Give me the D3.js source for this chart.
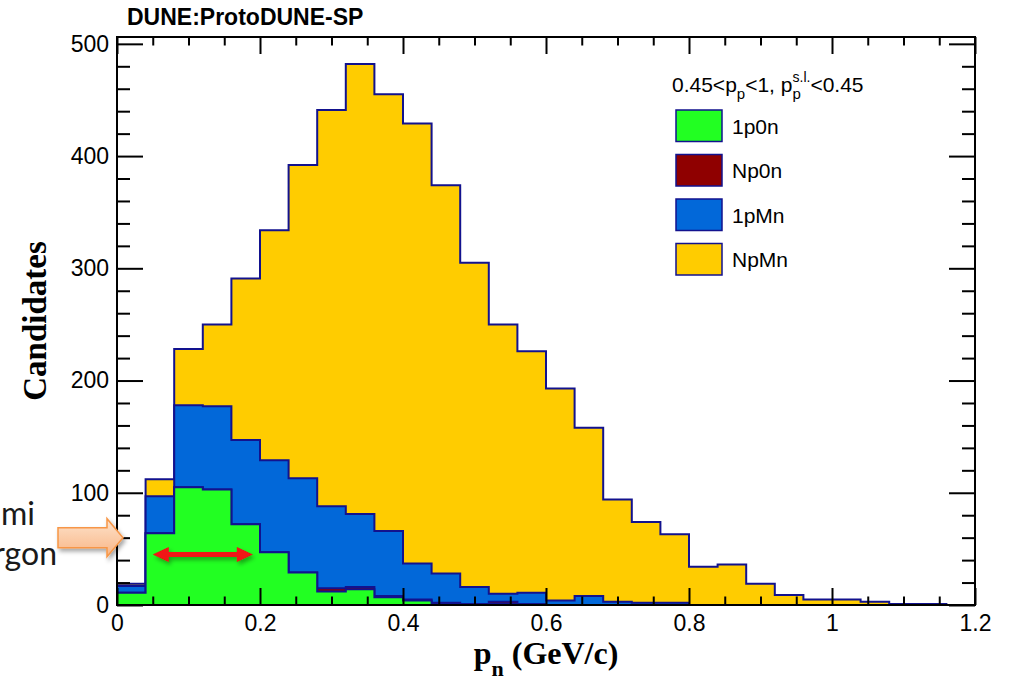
<!DOCTYPE html>
<html>
<head>
<meta charset="utf-8">
<script src="https://cdn.jsdelivr.net/npm/d3@7"></script>
<style>
body { margin: 0; background: #fff; }
svg { display: block; }
</style>
</head>
<body>
<script>
// bin edges of p_n (GeV/c), 30 bins of 0.04
var binEdges = [0, 0.04, 0.08, 0.12, 0.16, 0.2, 0.24, 0.28, 0.32, 0.36, 0.4,
    0.44, 0.48, 0.52, 0.56, 0.6, 0.64, 0.68, 0.72, 0.76, 0.8,
    0.84, 0.88, 0.92, 0.96, 1.0, 1.04, 1.08, 1.12, 1.16, 1.2];

// candidates per bin, for each topology (stacked bottom -> top)
var onePzeroN = [11, 64, 105, 103, 72, 47, 29, 12, 14, 7, 4, 1, 0, 1, 0, 0, 0, 0, 0, 0, 0, 0, 0, 0, 0, 0, 0, 0, 0, 0];
var nPzeroN   = [0, 0, 0, 0, 0, 0, 0, 3, 2, 1, 1, 1, 1, 2, 1, 0, 0, 0, 0, 0, 0, 0, 0, 0, 0, 0, 0, 0, 0, 0];
var onePmN    = [6, 33, 73, 74, 75, 82, 84, 73, 65, 58, 32, 26, 15, 7, 10, 4, 8, 3, 2, 2, 0, 0, 0, 0, 0, 0, 0, 0, 0, 0];
var nPmN      = [2, 15, 50, 73, 144, 205, 279, 353, 401, 389, 392, 346, 289, 240, 215, 189, 150, 91, 72, 61, 34, 36, 19, 9, 5, 5, 3, 1, 1, 0];

var seriesNames = ["1p0n", "Np0n", "1pMn", "NpMn"];
var seriesData = [onePzeroN, nPzeroN, onePmN, nPmN];

var xTicks = [0, 0.2, 0.4, 0.6, 0.8, 1.0, 1.2];
var xTickLabels = ["0", "0.2", "0.4", "0.6", "0.8", "1", "1.2"];
var yTicks = [0, 100, 200, 300, 400, 500];
var yTickLabels = ["0", "100", "200", "300", "400", "500"];

var colors = {"1p0n": "#22ff22", "Np0n": "#8f0000", "1pMn": "#0268d9", "NpMn": "#ffcc00"};
var lineColor = "#12128e";

var width = 1010, height = 679;

var svg = d3.select("body").append("svg")
    .attr("width", width)
    .attr("height", height);

var defs = svg.append("defs");
defs.append("filter").attr("id", "shadow")
    .attr("x", "-20%").attr("y", "-50%").attr("width", "150%").attr("height", "220%")
    .append("feDropShadow")
    .attr("dx", 2).attr("dy", 3).attr("stdDeviation", 2)
    .attr("flood-color", "#000").attr("flood-opacity", 0.35);
var grad = defs.append("linearGradient").attr("id", "peach")
    .attr("x1", 0).attr("y1", 0).attr("x2", 0).attr("y2", 1);
grad.append("stop").attr("offset", "0%").attr("stop-color", "#fde3cc");
grad.append("stop").attr("offset", "100%").attr("stop-color", "#f9b585");

var x = d3.scaleLinear().domain([0, 1.2]).range([117, 975]);
var y = d3.scaleLinear().domain([0, 506.1]).range([605, 37]);

// stacked table
var rows = binEdges.slice(0, -1).map(function(e, i) {
    var r = {x0: e};
    seriesNames.forEach(function(k, j) { r[k] = seriesData[j][i]; });
    return r;
});
var layers = d3.stack().keys(seriesNames)(rows);

var area = d3.area()
    .x(function(d) { return d[0]; })
    .y0(y(0))
    .y1(function(d) { return d[1]; })
    .curve(d3.curveStepAfter);

// draw cumulative histograms like THStack: top of stack first
layers.slice().reverse().forEach(function(layer) {
    var pts = layer.map(function(d) { return [x(d.data.x0), y(d[1])]; });
    pts.push([x(binEdges[binEdges.length - 1]), y(layer[layer.length - 1][1])]);
    svg.append("path")
        .datum(pts)
        .attr("d", area)
        .attr("fill", colors[layer.key])
        .attr("stroke", lineColor)
        .attr("stroke-width", 2)
        .attr("stroke-linejoin", "miter");
});

// frame
svg.append("rect")
    .attr("x", x(0)).attr("y", y.range()[1])
    .attr("width", x(1.2) - x(0)).attr("height", y(0) - y.range()[1])
    .attr("fill", "none").attr("stroke", "#000").attr("stroke-width", 2);

var xMinor = d3.range(0, 25).filter(function(i) { return i % 4 !== 0; }).map(function(i) { return i * 0.05; });
var yMinor = d3.range(0, 26).filter(function(i) { return i % 5 !== 0; }).map(function(i) { return i * 20; });

function styleAxis(g) {
    g.select(".domain").remove();
    g.selectAll("line").attr("stroke", "#000").attr("stroke-width", 2);
    g.attr("font-family", "'Liberation Sans', Arial, sans-serif").attr("font-size", 23);
    g.selectAll("text").attr("fill", "#000");
}

svg.append("g").attr("transform", "translate(0," + y(0) + ")")
    .call(d3.axisBottom(x).tickValues(xTicks)
        .tickFormat(function(d, i) { return xTickLabels[i]; })
        .tickSizeInner(-17).tickSizeOuter(0).tickPadding(10))
    .call(styleAxis);
svg.append("g").attr("transform", "translate(0," + y(0) + ")")
    .call(d3.axisBottom(x).tickValues(xMinor).tickFormat("").tickSizeInner(-8.5).tickSizeOuter(0))
    .call(styleAxis);
svg.append("g").attr("transform", "translate(0," + y.range()[1] + ")")
    .call(d3.axisTop(x).tickValues(xTicks).tickFormat("").tickSizeInner(-17).tickSizeOuter(0))
    .call(styleAxis);
svg.append("g").attr("transform", "translate(0," + y.range()[1] + ")")
    .call(d3.axisTop(x).tickValues(xMinor).tickFormat("").tickSizeInner(-8.5).tickSizeOuter(0))
    .call(styleAxis);

svg.append("g").attr("transform", "translate(" + x(0) + ",0)")
    .call(d3.axisLeft(y).tickValues(yTicks)
        .tickFormat(function(d, i) { return yTickLabels[i]; })
        .tickSizeInner(-26).tickSizeOuter(0).tickPadding(8))
    .call(styleAxis);
svg.append("g").attr("transform", "translate(" + x(0) + ",0)")
    .call(d3.axisLeft(y).tickValues(yMinor).tickFormat("").tickSizeInner(-13).tickSizeOuter(0))
    .call(styleAxis);
svg.append("g").attr("transform", "translate(" + x(1.2) + ",0)")
    .call(d3.axisRight(y).tickValues(yTicks).tickFormat("").tickSizeInner(-26).tickSizeOuter(0))
    .call(styleAxis);
svg.append("g").attr("transform", "translate(" + x(1.2) + ",0)")
    .call(d3.axisRight(y).tickValues(yMinor).tickFormat("").tickSizeInner(-13).tickSizeOuter(0))
    .call(styleAxis);

// title
svg.append("text")
    .attr("x", 127).attr("y", 25)
    .attr("font-family", "'Liberation Sans', Arial, sans-serif")
    .attr("font-weight", "bold").attr("font-size", 23)
    .text("DUNE:ProtoDUNE-SP");

// axis titles
var xt = svg.append("text")
    .attr("x", (x(0) + x(1.2)) / 2).attr("y", 664)
    .attr("text-anchor", "middle")
    .attr("font-family", "'Liberation Serif', 'Times New Roman', serif")
    .attr("font-weight", "bold").attr("font-size", 32);
xt.append("tspan").text("p");
xt.append("tspan").attr("font-size", 22).attr("dy", 12).text("n");
xt.append("tspan").attr("dy", -12).text(" (GeV/c)");

svg.append("text")
    .attr("transform", "translate(46," + (y(0) + y.range()[1]) / 2 + ") rotate(-90)")
    .attr("text-anchor", "middle")
    .attr("font-family", "'Liberation Serif', 'Times New Roman', serif")
    .attr("font-weight", "bold").attr("font-size", 33)
    .text("Candidates");

// legend
var lg = svg.append("g").attr("font-family", "'Liberation Sans', Arial, sans-serif");
var hd = lg.append("text").attr("x", 672).attr("y", 92).attr("font-size", 21);
hd.append("tspan").text("0.45<p");
hd.append("tspan").attr("font-size", 15).attr("dy", 7).text("p");
hd.append("tspan").attr("dy", -7).text("<1, p");
hd.append("tspan").attr("font-size", 15).attr("dy", 7).text("p");
hd.append("tspan").attr("font-size", 14).attr("dx", -8.3).attr("dy", -17).text("s.l.");
hd.append("tspan").attr("dy", 10).text("<0.45");

seriesNames.forEach(function(k, i) {
    var by = 110 + i * 44.5;
    lg.append("rect")
        .attr("x", 676).attr("y", by).attr("width", 46).attr("height", 31.5)
        .attr("fill", colors[k]).attr("stroke", lineColor).attr("stroke-width", 1.5);
    lg.append("text")
        .attr("x", 732).attr("y", by + 23.5)
        .attr("font-size", 21)
        .text(k);
});

// slide annotations (partly cut off at the left edge)
svg.append("text").attr("x", 35).attr("y", 525).attr("text-anchor", "end")
    .attr("font-family", "Lato, 'Open Sans', sans-serif").attr("font-size", 32)
    .attr("fill", "#1a1a1a").text("mi");
svg.append("text").attr("x", 57).attr("y", 565).attr("text-anchor", "end")
    .attr("font-family", "Lato, 'Open Sans', sans-serif").attr("font-size", 32)
    .attr("fill", "#1a1a1a").text("rgon");

// orange block arrow pointing to the plot
var tipX = x(0) + 6, tipY = y(60);
svg.append("path")
    .attr("d", "M" + (tipX - 65) + "," + (tipY - 10) +
        " L" + (tipX - 16) + "," + (tipY - 10) +
        " L" + (tipX - 16) + "," + (tipY - 19) +
        " L" + tipX + "," + tipY +
        " L" + (tipX - 16) + "," + (tipY + 19) +
        " L" + (tipX - 16) + "," + (tipY + 10) +
        " L" + (tipX - 65) + "," + (tipY + 10) + " Z")
    .attr("fill", "url(#peach)")
    .attr("stroke", "#f79646").attr("stroke-width", 1.5)
    .attr("filter", "url(#shadow)");

// red double arrow (Fermi momentum range)
var ax0 = x(0.05), ax1 = x(0.19), ay = y(45);
var hl = 16, hw = 7.5, lw = 2.5;
svg.append("path")
    .attr("d", "M" + ax0 + "," + ay +
        " L" + (ax0 + hl) + "," + (ay - hw) +
        " L" + (ax0 + hl) + "," + (ay - lw) +
        " L" + (ax1 - hl) + "," + (ay - lw) +
        " L" + (ax1 - hl) + "," + (ay - hw) +
        " L" + ax1 + "," + ay +
        " L" + (ax1 - hl) + "," + (ay + hw) +
        " L" + (ax1 - hl) + "," + (ay + lw) +
        " L" + (ax0 + hl) + "," + (ay + lw) +
        " L" + (ax0 + hl) + "," + (ay + hw) + " Z")
    .attr("fill", "#f01212")
    .attr("filter", "url(#shadow)");
</script>
</body>
</html>
